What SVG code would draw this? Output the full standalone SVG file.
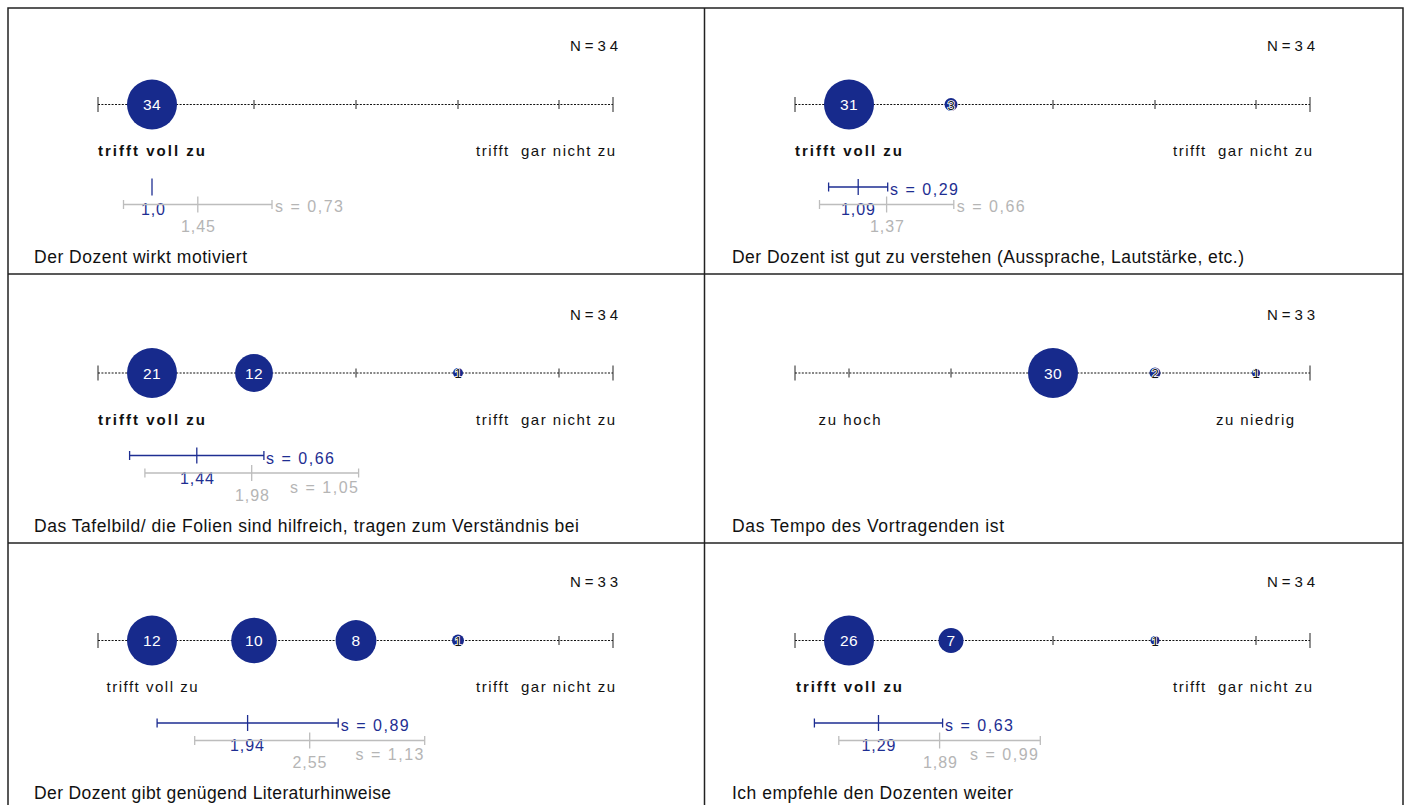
<svg xmlns="http://www.w3.org/2000/svg" width="1406" height="805" viewBox="0 0 1406 805">
<style>
.bg{fill:#fff}
.fr{stroke:#222;stroke-width:1.5;fill:none}
.ax{stroke:#111;stroke-width:1.1;stroke-dasharray:2 1.4;fill:none}
.tk{stroke:#222;stroke-width:1}
.c{fill:#172A8C}
.cn{font:15.5px "Liberation Sans",Arial,sans-serif;fill:#fff;text-anchor:middle;letter-spacing:0.5px}
.sn{font:13px "Liberation Sans",Arial,sans-serif;fill:#111;stroke:#fff;stroke-width:1.6px;paint-order:stroke;text-anchor:middle}
.n{font:15px "Liberation Sans",Arial,sans-serif;fill:#111}
.lb{font:bold 15px "Liberation Sans",Arial,sans-serif;fill:#111}
.lr{font:15px "Liberation Sans",Arial,sans-serif;fill:#111}
.bl{stroke:#1E2E92;stroke-width:1.3;fill:none}
.gl{stroke:#BDBDBD;stroke-width:1.3;fill:none}
.bt{font:16px "Liberation Sans",Arial,sans-serif;fill:#1E2E92}
.gt{font:16px "Liberation Sans",Arial,sans-serif;fill:#B5B5B5}
.m{text-anchor:middle}
.e{text-anchor:end}
.q{font:17.5px "Liberation Sans",Arial,sans-serif;fill:#111}
</style>
<rect class="bg" x="0" y="0" width="1406" height="805"/>
<g id="frame">
<path class="fr" d="M8,805 V8 H1403 V805"/>
<line class="fr" x1="704.5" y1="8" x2="704.5" y2="805"/>
<line class="fr" x1="8" y1="274" x2="1403" y2="274"/>
<line class="fr" x1="8" y1="543" x2="1403" y2="543"/>
</g>

<!-- Panel 1 -->
<g id="panel1">
<text class="n" x="570" y="51" textLength="48">N=34</text>
<line class="ax" x1="98" y1="104.5" x2="613" y2="104.5"/>
<path class="tk" d="M98,97V112M613,97V112M152,100V109M254,100V109M356,100V109M458,100V109M559,100V109"/>
<circle class="c" cx="152" cy="104.5" r="25"/>
<text class="cn" x="152" y="110">34</text>
<text class="lb" x="98" y="156" textLength="107">trifft voll zu</text>
<text class="lr" x="476" y="156" textLength="139" xml:space="preserve">trifft  gar nicht zu</text>
<path class="bl" d="M152,178.5V195.5"/>
<text class="bt m" x="153" y="215" textLength="24">1,0</text>
<path class="gl" d="M123.5,204.5H272M123.5,200V209M272,200V209M197.8,196.5V212.5"/>
<text class="gt m" x="198" y="232" textLength="34">1,45</text>
<text class="gt" x="275" y="212" textLength="68">s = 0,73</text>
<text class="q" x="34" y="263" textLength="213">Der Dozent wirkt motiviert</text>
</g>

<!-- Panel 2 -->
<g id="panel2" transform="translate(697,0)">
<text class="n" x="570" y="51" textLength="48">N=34</text>
<line class="ax" x1="98" y1="104.5" x2="613" y2="104.5"/>
<path class="tk" d="M98,97V112M613,97V112M152,100V109M254,100V109M356,100V109M458,100V109M559,100V109"/>
<circle class="c" cx="152" cy="104.5" r="25"/>
<text class="cn" x="152" y="110">31</text>
<circle class="c" cx="254" cy="104.5" r="6.5"/>
<text class="sn" x="254" y="109.5">3</text>
<text class="lb" x="98" y="156" textLength="107">trifft voll zu</text>
<text class="lr" x="476" y="156" textLength="139" xml:space="preserve">trifft  gar nicht zu</text>
<path class="bl" d="M131.6,187H190.7M131.6,182.5V191.5M190.7,182.5V191.5M161.2,179V195"/>
<text class="bt" x="193" y="195" textLength="68">s = 0,29</text>
<text class="bt m" x="161" y="215" textLength="34">1,09</text>
<path class="gl" d="M122.5,204.5H256.8M122.5,200V209M256.8,200V209M189.6,196.5V212.5"/>
<text class="gt" x="259.7" y="212" textLength="68">s = 0,66</text>
<text class="gt m" x="190" y="232" textLength="34">1,37</text>
<text class="q" x="35" y="263" textLength="512">Der Dozent ist gut zu verstehen (Aussprache, Lautstärke, etc.)</text>
</g>

<!-- Panel 3 -->
<g id="panel3" transform="translate(0,268.5)">
<text class="n" x="570" y="51" textLength="48">N=34</text>
<line class="ax" x1="98" y1="104.5" x2="613" y2="104.5"/>
<path class="tk" d="M98,97V112M613,97V112M152,100V109M254,100V109M356,100V109M458,100V109M559,100V109"/>
<circle class="c" cx="152" cy="104.5" r="25"/>
<text class="cn" x="152" y="110">21</text>
<circle class="c" cx="254" cy="104.5" r="18.9"/>
<text class="cn" x="254" y="110">12</text>
<circle class="c" cx="458" cy="104.5" r="5"/>
<text class="sn" x="458" y="109.5">1</text>
<text class="lb" x="98" y="156" textLength="107">trifft voll zu</text>
<text class="lr" x="476" y="156" textLength="139" xml:space="preserve">trifft  gar nicht zu</text>
<path class="bl" d="M129.6,187H263.9M129.6,182.5V191.5M263.9,182.5V191.5M196.8,179V195"/>
<text class="bt" x="266" y="195" textLength="68">s = 0,66</text>
<text class="bt m" x="197" y="215" textLength="34">1,44</text>
<path class="gl" d="M144.9,204.5H358.6M144.9,200V209M358.6,200V209M251.7,196.5V212.5"/>
<text class="gt e" x="358" y="224" textLength="68">s = 1,05</text>
<text class="gt m" x="252" y="232" textLength="34">1,98</text>
<text class="q" x="34" y="263" textLength="545">Das Tafelbild/ die Folien sind hilfreich, tragen zum Verständnis bei</text>
</g>

<!-- Panel 4 -->
<g id="panel4" transform="translate(697,268.5)">
<text class="n" x="570" y="51" textLength="48">N=33</text>
<line class="ax" x1="98" y1="104.5" x2="613" y2="104.5"/>
<path class="tk" d="M98,97V112M613,97V112M152,100V109M254,100V109M356,100V109M458,100V109M559,100V109"/>
<circle class="c" cx="356" cy="104.5" r="25"/>
<text class="cn" x="356" y="110">30</text>
<circle class="c" cx="458" cy="104.5" r="5.5"/>
<text class="sn" x="458" y="109.5">2</text>
<circle class="c" cx="559" cy="104.5" r="4"/>
<text class="sn" x="559" y="109.5">1</text>
<text class="lr" x="121.6" y="156" textLength="62">zu hoch</text>
<text class="lr" x="519" y="156" textLength="78">zu niedrig</text>
<text class="q" x="35" y="263" textLength="272">Das Tempo des Vortragenden ist</text>
</g>

<!-- Panel 5 -->
<g id="panel5" transform="translate(0,536)">
<text class="n" x="570" y="51" textLength="48">N=33</text>
<line class="ax" x1="98" y1="104.5" x2="613" y2="104.5"/>
<path class="tk" d="M98,97V112M613,97V112M152,100V109M254,100V109M356,100V109M458,100V109M559,100V109"/>
<circle class="c" cx="152" cy="104.5" r="25"/>
<text class="cn" x="152" y="110">12</text>
<circle class="c" cx="254" cy="104.5" r="22.8"/>
<text class="cn" x="254" y="110">10</text>
<circle class="c" cx="356" cy="104.5" r="20.4"/>
<text class="cn" x="356" y="110">8</text>
<circle class="c" cx="458" cy="104.5" r="6"/>
<text class="sn" x="458" y="109.5">1</text>
<text class="lr" x="106.5" y="156" textLength="91">trifft voll zu</text>
<text class="lr" x="476" y="156" textLength="139" xml:space="preserve">trifft  gar nicht zu</text>
<path class="bl" d="M157.1,187H338.2M157.1,182.5V191.5M338.2,182.5V191.5M247.6,179V195"/>
<text class="bt" x="340.7" y="195" textLength="68">s = 0,89</text>
<text class="bt m" x="247" y="215" textLength="34">1,94</text>
<path class="gl" d="M194.7,204.5H424.7M194.7,200V209M424.7,200V209M309.7,196.5V212.5"/>
<text class="gt e" x="423.5" y="224" textLength="68">s = 1,13</text>
<text class="gt m" x="309.5" y="232" textLength="34">2,55</text>
<text class="q" x="34" y="263" textLength="357">Der Dozent gibt genügend Literaturhinweise</text>
</g>

<!-- Panel 6 -->
<g id="panel6" transform="translate(697,536)">
<text class="n" x="570" y="51" textLength="48">N=34</text>
<line class="ax" x1="98" y1="104.5" x2="613" y2="104.5"/>
<path class="tk" d="M98,97V112M613,97V112M152,100V109M254,100V109M356,100V109M458,100V109M559,100V109"/>
<circle class="c" cx="152" cy="104.5" r="25"/>
<text class="cn" x="152" y="110">26</text>
<circle class="c" cx="254" cy="104.5" r="12.5"/>
<text class="cn" x="254" y="110">7</text>
<circle class="c" cx="458" cy="104.5" r="4.5"/>
<text class="sn" x="458" y="109.5">1</text>
<text class="lb" x="99" y="156" textLength="106">trifft voll zu</text>
<text class="lr" x="476" y="156" textLength="139" xml:space="preserve">trifft  gar nicht zu</text>
<path class="bl" d="M117.4,187H245.6M117.4,182.5V191.5M245.6,182.5V191.5M181.5,179V195"/>
<text class="bt" x="248" y="195" textLength="68">s = 0,63</text>
<text class="bt m" x="181.5" y="215" textLength="34">1,29</text>
<path class="gl" d="M141.8,204.5H343.3M141.8,200V209M343.3,200V209M242.6,196.5V212.5"/>
<text class="gt e" x="341" y="224" textLength="68">s = 0,99</text>
<text class="gt m" x="243" y="232" textLength="34">1,89</text>
<text class="q" x="35" y="263" textLength="281">Ich empfehle den Dozenten weiter</text>
</g>
</svg>
